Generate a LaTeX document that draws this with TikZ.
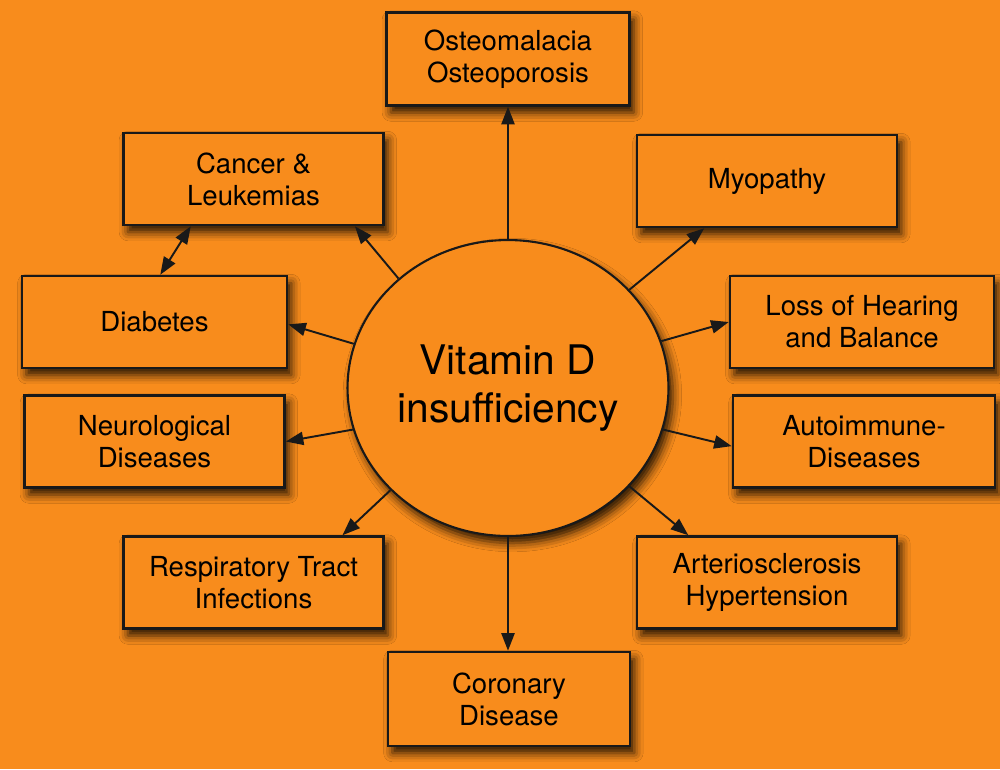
\documentclass[tikz,border=0pt]{standalone}
\usepackage{fontspec}
\setmainfont{TeX Gyre Heros}
\usetikzlibrary{arrows.meta,shapes.geometric,shadows.blur}
\definecolor{vdorange}{RGB}{248,140,28}

\begin{document}
\begin{tikzpicture}[x=0.02cm, y=-0.02cm,
	illness/.style={draw=black!90, line width=1.5pt, fill=vdorange,
		minimum width=5.2cm, minimum height=1.84cm, align=center,
		font=\fontsize{15.7pt}{18.2pt}\selectfont,
		blur shadow={shadow xshift=2.5pt, shadow yshift=-4pt, shadow opacity=85, shadow blur radius=5pt}},
	hub/.style={ellipse, draw=black!90, line width=1.2pt, fill=vdorange,
		minimum width=6.42cm, minimum height=5.92cm, inner sep=0pt, align=center,
		font=\fontsize{23.2pt}{27.3pt}\selectfont,
		blur shadow={shadow xshift=2.5pt, shadow yshift=-4pt, shadow opacity=85, shadow blur radius=5pt}},
	link/.style={line width=1.1pt, draw=black!90, -{Triangle[length=10pt,width=7.5pt]}}]
			%%%%% START %%%%%
			
			\useasboundingbox[fill=vdorange] (0, 0) rectangle (1000, 769);
			
			\node[hub] (vd) at (508, 388) {Vitamin D\\insufficiency};
			
			\node[illness, minimum width=4.86cm, minimum height=1.86cm] (osteo) at (508, 59) {Osteomalacia\\Osteoporosis};
			\node[illness] (myo) at (767, 181) {Myopathy};
			\node[illness] (cancer) at (253.5, 179) {Cancer \&\\Leukemias};
			\node[illness, minimum width=5.3cm] (diab) at (154.5, 322) {Diabetes};
			\node[illness, minimum width=5.28cm] (loss) at (862, 322) {Loss of Hearing\\and Balance};
			\node[illness] (neuro) at (154.5, 441.5) {Neurological\\Diseases};
			\node[illness, minimum width=5.24cm] (auto) at (864, 441.5) {Autoimmune-\\Diseases};
			\node[illness] (resp) at (253.5, 582.5) {Respiratory Tract\\Infections};
			\node[illness] (arter) at (767, 582.5) {Arteriosclerosis\\Hypertension};
			\node[illness, minimum width=4.84cm, minimum height=1.88cm] (coron) at (509, 699) {Coronary\\Disease};
			
			\draw[link] (vd.north) -- (osteo.south);
			\draw[link] (vd.39) -- (myo.217);
			\draw[link] (vd.135) -- (cancer.-25);
			\draw[link] (vd.164) -- (diab.-1);
			\draw[link] (vd.17) -- (loss.west);
			\draw[link] (vd.195) -- (neuro.east);
			\draw[link] (vd.-15) -- (auto.182);
			\draw[link] (vd.221) -- (resp.28);
			\draw[link] (vd.-39) -- (arter.149);
			\draw[link] (vd.south) -- (vd.south |- coron.north);
			\draw[link, {Triangle[length=10pt,width=7.5pt]}-{Triangle[length=10pt,width=7.5pt]}] (cancer.217) -- (diab.83);
			
			%%%%% END %%%%%
\end{tikzpicture}
\end{document}
